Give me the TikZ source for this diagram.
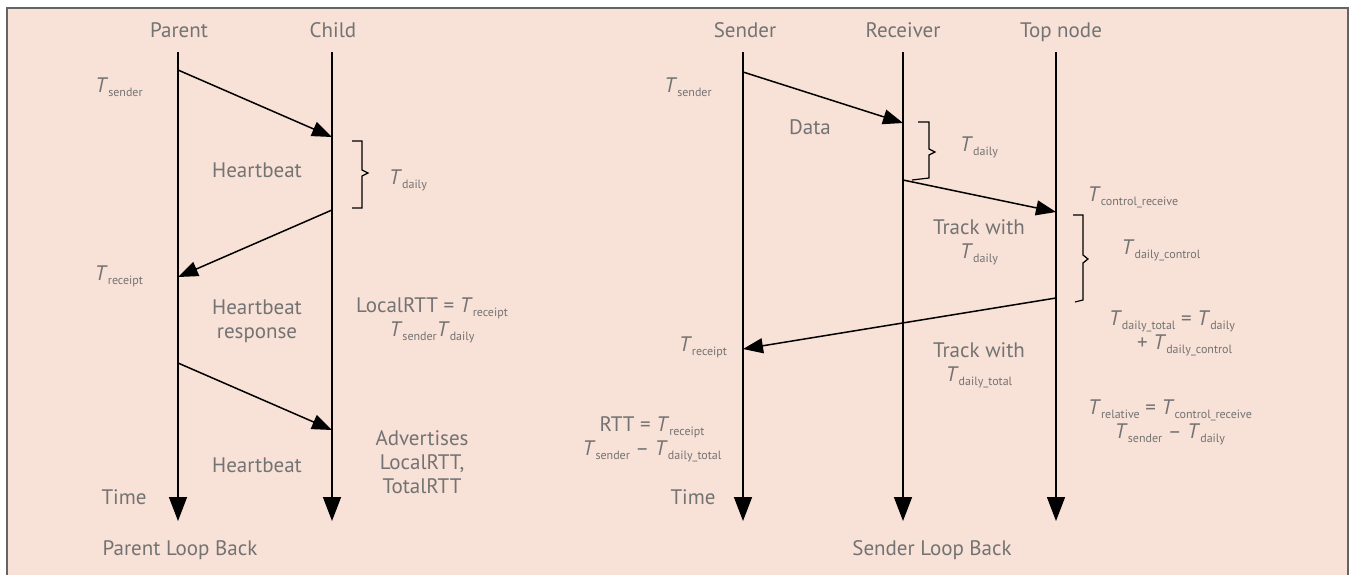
\documentclass[tikz,border=0pt]{standalone}
\usepackage{fontspec}
\setmainfont{PT Sans}
\usetikzlibrary{arrows.meta}
\definecolor{bgpink}{RGB}{248,225,214}
\definecolor{frame}{RGB}{100,100,100}
\definecolor{txt}{RGB}{115,115,115}
\newcommand\Tx[1]{\textit{T}\raisebox{-4pt}{\fontsize{12}{14}\selectfont #1}}
\tikzset{
  lbl/.style={text=txt,font=\fontsize{21}{24}\selectfont,inner sep=1pt,align=center},
  hdr/.style={lbl,anchor=base},
  life/.style={draw=black,line width=1.5pt,-{Triangle[length=24pt,width=18pt]}},
  msg/.style={draw=black,line width=1.5pt,-{Triangle[length=20pt,width=15pt]}},
  brk/.style={draw=black,line width=1.2pt}
}
\begin{document}
\begin{tikzpicture}[x=1pt,y=-1pt]
\useasboundingbox (0,0) rectangle (1351,575);
\fill[white] (0,0) rectangle (1351,575);
\fill[bgpink] (7,8) rectangle (1348,575);
\draw[frame,line width=1.5pt] (7,575) -- (7,8) -- (1348,8) -- (1348,575);

% lifeline coordinates
\coordinate (P0) at (178,52); \coordinate (P1) at (178,521);
\coordinate (C0) at (332,52); \coordinate (C1) at (332,521);
\coordinate (S0) at (743,52); \coordinate (S1) at (743,521);
\coordinate (R0) at (903,52); \coordinate (R1) at (903,521);
\coordinate (N0) at (1056,52); \coordinate (N1) at (1056,521);

\draw[life] (P0) -- (P1);
\draw[life] (C0) -- (C1);
\draw[life] (S0) -- (S1);
\draw[life] (R0) -- (R1);
\draw[life] (N0) -- (N1);

% headers
\node[hdr] (hP) at (179,38) {Parent};
\node[hdr] (hC) at (333,38) {Child};
\node[hdr] (hS) at (745,38) {Sender};
\node[hdr] (hR) at (903,38) {Receiver};
\node[hdr] (hN) at (1061,38) {Top node};

% left messages
\coordinate (m1a) at (178,70); \coordinate (m1b) at (332,137);
\coordinate (m2a) at (332,210); \coordinate (m2b) at (178,277);
\coordinate (m3a) at (178,363); \coordinate (m3b) at (332,430);
\draw[msg] (m1a) -- (m1b);
\draw[msg] (m2a) -- (m2b);
\draw[msg] (m3a) -- (m3b);

% right messages
\coordinate (r1a) at (743,72); \coordinate (r1b) at (903,123);
\coordinate (r2a) at (903,180); \coordinate (r2b) at (1056,212);
\coordinate (r3a) at (1056,298); \coordinate (r3b) at (743,349);
\draw[msg] (r1a) -- (r1b);
\draw[msg] (r2a) -- (r2b);
\draw[msg] (r3a) -- (r3b);

% braces
\draw[brk] (352,141) -- (362,141) -- (362,170) -- (368,173) -- (362,176) -- (362,208) -- (352,208);
\draw[brk] (918,122) -- (929,122) -- (929,149) -- (935,152) -- (929,155) -- (929,178) -- (912,180);
\draw[brk] (1073,215) -- (1083,215) -- (1083,255) -- (1088,259) -- (1083,263) -- (1083,300) -- (1075,302);

% left labels
\node[lbl] (tsL) at (119,87) {\Tx{sender}};
\node[lbl] (hb1) at (257,170) {Heartbeat};
\node[lbl] (tdL) at (408,180) {\Tx{daily}};
\node[lbl] (trL) at (119,276) {\Tx{receipt}};
\node[lbl] (hbr) at (257,321) {Heartbeat\\response};
\node[lbl] (lrtt) at (432,320) {LocalRTT = \Tx{receipt}\\\Tx{sender}\Tx{daily}};
\node[lbl] (adv) at (422,462) {Advertises\\LocalRTT,\\TotalRTT};
\node[lbl] (hb2) at (257,465) {Heartbeat};
\node[lbl] (timeL) at (124,497) {Time};
\node[lbl] (plb) at (180,550) {Parent Loop Back};

% right labels
\node[lbl] (tsR) at (688,87) {\Tx{sender}};
\node[lbl] (data) at (810,127) {Data};
\node[lbl] (tdR) at (979,147) {\Tx{daily}};
\node[lbl] (tcr) at (1133,197) {\Tx{control\_receive}};
\node[lbl] (tdc) at (1161,250) {\Tx{daily\_control}};
\node[lbl] (tw1) at (979,242) {Track with\\\Tx{daily}};
\node[lbl] (tdt) at (1172,333) {\Tx{daily\_total} = \Tx{daily}\\\hspace*{1.2em}+ \Tx{daily\_control}};
\node[lbl] (trR) at (703,347) {\Tx{receipt}};
\node[lbl] (tw2) at (979,365) {Track with\\\Tx{daily\_total}};
\node[lbl] (trel) at (1170,422) {\Tx{relative} = \Tx{control\_receive}\\\Tx{sender} -- \Tx{daily}};
\node[lbl] (rtt) at (652,439) {RTT = \Tx{receipt}\\\Tx{sender} -- \Tx{daily\_total}};
\node[lbl] (timeR) at (693,497) {Time};
\node[lbl] (slb) at (932,550) {Sender Loop Back};
\end{tikzpicture}
\end{document}
